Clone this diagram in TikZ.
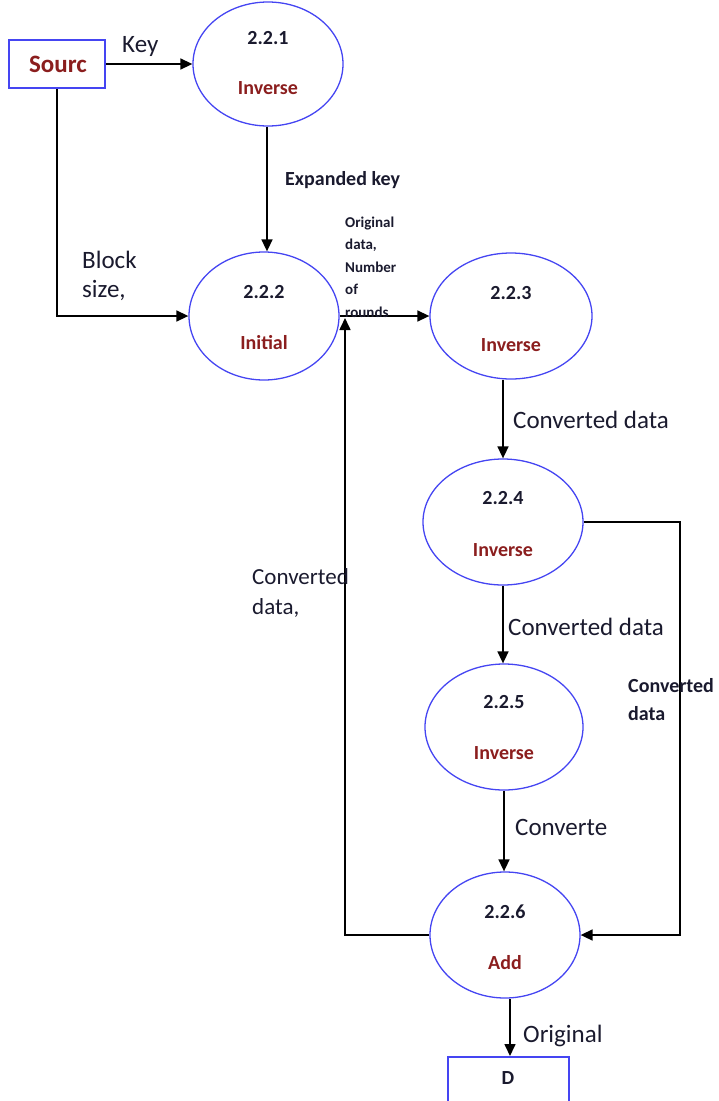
\documentclass[tikz,border=0pt]{standalone}
\usepackage{fontspec}
\setmainfont{Carlito}
\usetikzlibrary{arrows.meta,shapes.geometric}
\definecolor{procblue}{HTML}{4545F2}
\definecolor{procred}{HTML}{8B1E1E}
\definecolor{ink}{HTML}{1A1A2E}
\tikzset{
  proc/.style={ellipse,draw=procblue,line width=1.3pt,inner sep=0pt},
  store/.style={rectangle,draw=procblue,line width=2pt,inner sep=0pt},
  pnum/.style={font=\bfseries\fontsize{20}{24}\selectfont,text=ink,inner sep=0pt},
  pname/.style={font=\bfseries\fontsize{20}{24}\selectfont,text=procred,inner sep=0pt},
  flow/.style={draw=black,line width=1.6pt,-{Triangle[length=12pt,width=11pt]}},
  biglbl/.style={font=\fontsize{25}{30}\selectfont,text=ink,inner sep=0pt,anchor=west,align=left},
  midlbl/.style={font=\fontsize{23}{30}\selectfont,text=ink,inner sep=0pt,anchor=west,align=left},
  boldlbl/.style={font=\bfseries\fontsize{20}{28}\selectfont,text=ink,inner sep=0pt,anchor=west,align=left},
  tinylbl/.style={font=\bfseries\fontsize{15}{22.5}\selectfont,text=ink,inner sep=0pt,anchor=west,align=left},
}
\begin{document}
\begin{tikzpicture}[x=1pt,y=-1pt]
\useasboundingbox (0,0) rectangle (718,1101);
\clip (0,0) rectangle (718,1101);

% external entities
\node[store,minimum width=96pt,minimum height=48pt] (src) at (57,64) {};
\node[font=\bfseries\fontsize{25}{30}\selectfont,text=procred] at (58,64) {Sourc};
\node[store,minimum width=121pt,minimum height=70pt] (dst) at (508,1092) {};
\node[font=\bfseries\fontsize{20}{24}\selectfont,text=ink] at (508,1078) {D};

% processes
\node[proc,minimum width=150pt,minimum height=124pt] (p1) at (268,64) {};
\node[pnum] at (268,38) {2.2.1};
\node[pname] at (268,88) {Inverse};

\node[proc,minimum width=150pt,minimum height=128pt] (p2) at (264,316) {};
\node[pnum] at (264,292) {2.2.2};
\node[pname] at (264,343) {Initial};

\node[proc,minimum width=162pt,minimum height=126pt] (p3) at (511,316) {};
\node[pnum] at (511,293) {2.2.3};
\node[pname] at (511,345) {Inverse};

\node[proc,minimum width=160pt,minimum height=126pt] (p4) at (503,522) {};
\node[pnum] at (503,498) {2.2.4};
\node[pname] at (503,550) {Inverse};

\node[proc,minimum width=158pt,minimum height=126pt] (p5) at (504,727) {};
\node[pnum] at (504,702) {2.2.5};
\node[pname] at (504,753) {Inverse};

\node[proc,minimum width=150pt,minimum height=126pt] (p6) at (505,935) {};
\node[pnum] at (505,912) {2.2.6};
\node[pname] at (505,963) {Add};

% bend points of the long flows
\coordinate (ret) at (345,318);
\coordinate (rside) at (680,700);

% data flows
\draw[flow] (src.east) -- (p1.west);
\draw[flow] (src.south) |- (p2.west);
\draw[flow] (p1.south -| 267,0) -- (p2.north -| 267,0);
\draw[flow] (p2.east) -- (p3.west);
\draw[flow] (p3.south -| p4.north) -- (p4.north);
\draw[flow] (p4.south) -- (p4.south |- p5.north);
\draw[flow] (p5.south) -- (p5.south |- p6.north);
\draw[flow] (p6.west) -| (ret);
\draw[flow] (p4.east) -| (rside) |- (p6.east);
\draw[flow] (p6.south -| 510,0) -- (dst.north -| 510,0);

% flow labels
\node[biglbl] at (122,46) {Key};
\node[boldlbl] at (285,180) {Expanded key};
\node[biglbl,font=\fontsize{25}{29}\selectfont] at (82,276) {Block\\size,};
\node[tinylbl] at (345,267) {Original\\data,\\Number\\of\\rounds};
\node[biglbl] at (513,420) {Converted data};
\node[midlbl] at (252,593) {Converted\\data,};
\node[biglbl] at (508,627) {Converted data};
\node[boldlbl] at (628,700) {Converted\\data};
\node[biglbl] at (515,827) {Converte};
\node[biglbl] at (523,1036) {Original};
\end{tikzpicture}
\end{document}
